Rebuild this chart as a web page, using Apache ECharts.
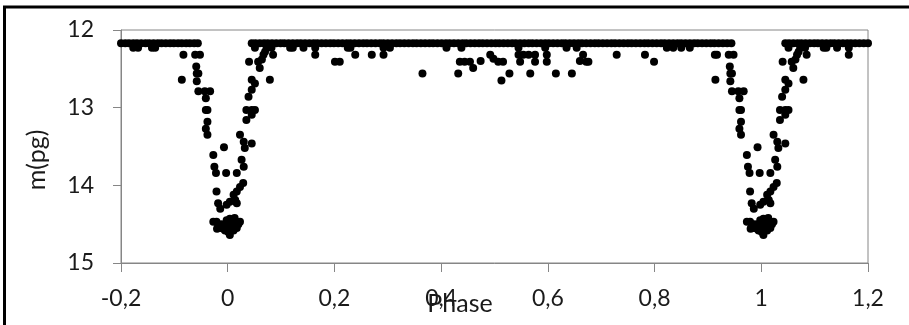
<!DOCTYPE html>
<html>
<head>
<meta charset="utf-8">
<script src="https://cdn.jsdelivr.net/npm/echarts@6/dist/echarts.min.js"></script>
<style>
  html, body { margin: 0; padding: 0; background: #fff; }
  #chart { width: 909px; height: 325px; }
</style>
</head>
<body>
<div id="chart"></div>
<script>
// axis ticks (comma decimals, as in the original)
const xTicks = ["-0,2", "0", "0,2", "0,4", "0,6", "0,8", "1", "1,2"];
const yTicks = ["12", "13", "14", "15"];

// flat out-of-eclipse part
const baseline = [
  [-0.200,12.17],[-0.192,12.17],[-0.185,12.17],[-0.177,12.17],[-0.170,12.17],[-0.162,12.17],[-0.154,12.17],
  [-0.147,12.17],[-0.139,12.17],[-0.131,12.17],[-0.124,12.17],[-0.116,12.17],[-0.108,12.17],[-0.101,12.17],
  [-0.093,12.17],[-0.086,12.17],[-0.078,12.17],[-0.071,12.17],[-0.063,12.17],[-0.056,12.17],
  [0.045,12.17],[0.052,12.17],[0.060,12.17],[0.068,12.17],[0.075,12.17],[0.083,12.17],[0.091,12.17],[0.099,12.17],
  [0.106,12.17],[0.114,12.17],[0.122,12.17],[0.130,12.17],[0.137,12.17],[0.145,12.17],[0.153,12.17],[0.161,12.17],
  [0.168,12.17],[0.176,12.17],[0.184,12.17],[0.192,12.17],[0.199,12.17],[0.207,12.17],[0.215,12.17],[0.223,12.17],
  [0.230,12.17],[0.238,12.17],[0.246,12.17],[0.254,12.17],[0.261,12.17],[0.269,12.17],[0.277,12.17],[0.285,12.17],
  [0.292,12.17],[0.300,12.17],[0.308,12.17],[0.316,12.17],[0.323,12.17],[0.331,12.17],[0.339,12.17],[0.347,12.17],
  [0.354,12.17],[0.362,12.17],[0.370,12.17],[0.378,12.17],[0.385,12.17],[0.393,12.17],[0.401,12.17],[0.409,12.17],
  [0.416,12.17],[0.424,12.17],[0.432,12.17],[0.440,12.17],[0.447,12.17],[0.455,12.17],[0.463,12.17],[0.471,12.17],
  [0.478,12.17],[0.486,12.17],[0.494,12.17],[0.502,12.17],[0.509,12.17],[0.517,12.17],[0.525,12.17],[0.533,12.17],
  [0.540,12.17],[0.548,12.17],[0.556,12.17],[0.564,12.17],[0.571,12.17],[0.579,12.17],[0.587,12.17],[0.595,12.17],
  [0.602,12.17],[0.610,12.17],[0.618,12.17],[0.626,12.17],[0.633,12.17],[0.641,12.17],[0.649,12.17],[0.657,12.17],
  [0.664,12.17],[0.672,12.17],[0.680,12.17],[0.688,12.17],[0.695,12.17],[0.703,12.17],[0.711,12.17],[0.719,12.17],
  [0.726,12.17],[0.734,12.17],[0.742,12.17],[0.750,12.17],[0.757,12.17],[0.765,12.17],[0.773,12.17],[0.781,12.17],
  [0.788,12.17],[0.796,12.17],[0.804,12.17],[0.812,12.17],[0.819,12.17],[0.827,12.17],[0.835,12.17],[0.843,12.17],
  [0.850,12.17],[0.858,12.17],[0.866,12.17],[0.874,12.17],[0.881,12.17],[0.889,12.17],[0.897,12.17],[0.905,12.17],
  [0.912,12.17],[0.920,12.17],[0.928,12.17],[0.936,12.17],[0.944,12.17],
  [1.045,12.17],[1.052,12.17],[1.060,12.17],[1.068,12.17],[1.075,12.17],[1.083,12.17],[1.091,12.17],[1.099,12.17],
  [1.106,12.17],[1.114,12.17],[1.122,12.17],[1.130,12.17],[1.137,12.17],[1.145,12.17],[1.153,12.17],[1.161,12.17],
  [1.168,12.17],[1.176,12.17],[1.184,12.17],[1.192,12.17],[1.200,12.17]
];

// scattered points just below the flat part
const outliers = [
  [-0.177,12.23],[-0.168,12.23],[-0.142,12.23],[-0.136,12.23],
  [0.051,12.23],[0.073,12.23],[0.082,12.23],[0.085,12.32],[0.117,12.23],[0.122,12.23],[0.142,12.23],
  [0.164,12.32],[0.164,12.23],[0.201,12.41],[0.210,12.41],[0.225,12.23],[0.230,12.23],[0.239,12.32],
  [0.270,12.32],[0.292,12.23],[0.304,12.23],[0.292,12.32],[0.365,12.56],[0.410,12.23],[0.432,12.56],
  [0.438,12.23],[0.435,12.41],[0.444,12.41],[0.454,12.41],[0.460,12.49],[0.474,12.40],[0.492,12.32],
  [0.498,12.37],[0.507,12.41],[0.516,12.41],[0.513,12.65],[0.528,12.56],[0.545,12.23],[0.545,12.32],
  [0.554,12.32],[0.548,12.41],[0.567,12.56],[0.564,12.32],[0.576,12.41],[0.576,12.32],[0.595,12.23],
  [0.598,12.32],[0.598,12.41],[0.615,12.56],[0.635,12.23],[0.654,12.23],[0.645,12.56],[0.660,12.40],
  [0.666,12.32],[0.672,12.41],[0.676,12.41],[0.729,12.32],[0.782,12.32],[0.799,12.41],[0.823,12.23],
  [0.835,12.23],[0.850,12.23],[0.866,12.23],[0.913,12.32],
  [1.051,12.23],[1.073,12.23],[1.082,12.23],[1.085,12.32],[1.117,12.23],[1.122,12.23],[1.142,12.23],
  [1.164,12.32],[1.164,12.23]
];

// eclipse around phase 0
const eclipse0 = [
  [-0.086,12.64],[-0.083,12.32],[-0.061,12.32],[-0.052,12.32],[-0.059,12.47],[-0.058,12.56],[-0.055,12.56],
  [-0.058,12.66],[-0.055,12.79],[-0.043,12.79],[-0.033,12.79],[-0.041,12.88],[-0.041,13.03],[-0.038,13.03],
  [-0.038,13.18],[-0.041,13.27],[-0.038,13.35],[-0.027,13.61],[-0.007,13.51],[-0.025,13.76],[-0.022,13.84],
  [-0.003,13.84],[0.017,13.84],[-0.021,14.08],[-0.018,14.23],[-0.014,14.30],[-0.002,14.25],[0.004,14.21],
  [0.011,14.12],[0.014,14.19],[0.017,14.23],[0.017,14.08],[0.023,14.02],[0.029,13.97],
  [-0.027,14.47],[-0.021,14.47],[-0.018,14.53],[-0.014,14.55],[-0.012,14.50],[-0.008,14.56],[-0.005,14.52],
  [-0.002,14.45],[0.001,14.50],[0.004,14.43],[0.008,14.48],[0.011,14.53],[0.014,14.47],[0.017,14.55],
  [0.020,14.50],[0.001,14.60],[0.004,14.64],[-0.005,14.58],[0.011,14.58],[-0.020,14.56],[0.007,14.56],
  [0.013,14.42],[0.023,14.47],
  [0.026,13.67],[0.030,13.76],[0.032,13.52],[0.030,13.44],[0.045,13.46],[0.023,13.35],[0.035,13.16],
  [0.045,13.09],[0.035,13.03],[0.045,13.03],[0.051,13.03],[0.039,12.86],[0.045,12.77],[0.051,12.69],
  [0.045,12.64],[0.079,12.64],[0.040,12.41],[0.057,12.41],[0.060,12.49],[0.064,12.38],[0.067,12.32],
  [0.070,12.28]
];

// same eclipse one cycle later
const eclipse1 = [
  [0.914,12.64],[0.917,12.32],[0.939,12.32],[0.948,12.32],[0.941,12.47],[0.942,12.56],[0.945,12.56],
  [0.942,12.66],[0.945,12.79],[0.957,12.79],[0.967,12.79],[0.959,12.88],[0.959,13.03],[0.962,13.03],
  [0.962,13.18],[0.959,13.27],[0.962,13.35],[0.973,13.61],[0.993,13.51],[0.975,13.76],[0.978,13.84],
  [0.997,13.84],[1.017,13.84],[0.979,14.08],[0.982,14.23],[0.986,14.30],[0.998,14.25],[1.004,14.21],
  [1.011,14.12],[1.014,14.19],[1.017,14.23],[1.017,14.08],[1.023,14.02],[1.029,13.97],
  [0.973,14.47],[0.979,14.47],[0.982,14.53],[0.986,14.55],[0.988,14.50],[0.992,14.56],[0.995,14.52],
  [0.998,14.45],[1.001,14.50],[1.004,14.43],[1.008,14.48],[1.011,14.53],[1.014,14.47],[1.017,14.55],
  [1.020,14.50],[1.001,14.60],[1.004,14.64],[0.995,14.58],[1.011,14.58],[0.980,14.56],[1.007,14.56],
  [1.013,14.42],[1.023,14.47],
  [1.026,13.67],[1.030,13.76],[1.032,13.52],[1.030,13.44],[1.045,13.46],[1.023,13.35],[1.035,13.16],
  [1.045,13.09],[1.035,13.03],[1.045,13.03],[1.051,13.03],[1.039,12.86],[1.045,12.77],[1.051,12.69],
  [1.045,12.64],[1.079,12.64],[1.040,12.41],[1.057,12.41],[1.060,12.49],[1.064,12.38],[1.067,12.32],
  [1.070,12.28]
];

const axisGrey = "#868686";
const textColor = "#1a1a1a";
const font = "Lato";

const dotSeries = (data) => ({
  type: "scatter",
  data: data,
  symbol: "circle",
  symbolSize: 8,
  clip: false,
  itemStyle: { color: "#000", opacity: 1 },
  silent: true
});

const chart = echarts.init(document.getElementById("chart"));
chart.setOption({
  animation: false,
  backgroundColor: "#fff",
  grid: {
    left: 121, right: 41, top: 30, bottom: 62,
    show: true, borderColor: axisGrey, borderWidth: 1
  },
  xAxis: {
    type: "value",
    min: -0.2, max: 1.2, interval: 0.2,
    axisLine: { show: true, onZero: false, lineStyle: { color: axisGrey, width: 1 } },
    axisTick: { show: true, length: 9, lineStyle: { color: axisGrey } },
    splitLine: { show: false },
    axisLabel: {
      margin: 24, fontSize: 23, fontFamily: font, color: textColor,
      showMinLabel: true, showMaxLabel: true,
      formatter: (v) => xTicks[Math.round((v + 0.2) / 0.2)]
    }
  },
  yAxis: {
    type: "value",
    inverse: true,
    min: 12, max: 15, interval: 1,
    axisLine: { show: true, onZero: false, lineStyle: { color: axisGrey, width: 1 } },
    axisTick: { show: true, length: 8, lineStyle: { color: axisGrey } },
    splitLine: { show: false },
    axisLabel: {
      margin: 27, fontSize: 23, fontFamily: font, color: textColor,
      showMinLabel: true, showMaxLabel: true,
      formatter: (v) => yTicks[Math.round(v - 12)]
    }
  },
  graphic: [
    {
      type: "rect",
      shape: { x: 4.5, y: 7, width: 1000, height: 1000 },
      style: { fill: "none", stroke: "#000", lineWidth: 3 },
      silent: true
    },
    {
      type: "text",
      x: 37, y: 160, rotation: Math.PI / 2,
      style: { text: "m(pg)", fontSize: 25, fontFamily: font, fill: textColor, align: "center", verticalAlign: "middle" }
    },
    {
      type: "text",
      x: 460, y: 304,
      style: { text: "Phase", fontSize: 25, fontFamily: font, fill: textColor, align: "center", verticalAlign: "middle" }
    }
  ],
  series: [dotSeries(baseline), dotSeries(outliers), dotSeries(eclipse0), dotSeries(eclipse1)]
});
</script>
</body>
</html>
